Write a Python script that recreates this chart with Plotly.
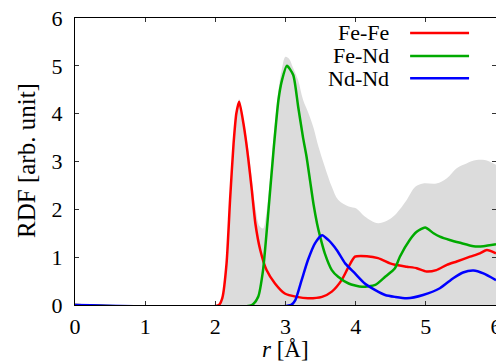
import plotly.graph_objects as go

# ---- data ----
r_fefe = [0, 2.05, 2.10, 2.16, 2.21, 2.26, 2.30, 2.34, 2.40, 2.44, 2.47, 2.52, 2.57, 2.64,
          2.73, 2.85, 2.99, 3.16, 3.32, 3.52, 3.66, 3.80, 3.90, 3.99, 4.16, 4.32, 4.49,
          4.56, 4.73, 4.87, 5.01, 5.15, 5.30, 5.44, 5.63, 5.77, 5.87, 6.0]
g_fefe = [0, 0, 0.15, 0.87, 2.2, 3.38, 4.01, 4.25, 3.80, 3.40, 3.05, 2.40, 1.71, 1.15,
          0.73, 0.45, 0.24, 0.17, 0.14, 0.17, 0.28, 0.52, 0.80, 1.01, 1.02, 0.98, 0.87,
          0.84, 0.80, 0.77, 0.70, 0.73, 0.84, 0.91, 1.01, 1.08, 1.15, 1.08]

r_fend = [0, 2.52, 2.61, 2.68, 2.75, 2.83, 2.90, 2.95, 3.02, 3.11, 3.18, 3.25, 3.30, 3.35,
          3.40, 3.45, 3.49, 3.56, 3.66, 3.75, 3.90, 4.09, 4.28, 4.42, 4.56, 4.63, 4.77,
          4.87, 4.99, 5.11, 5.20, 5.34, 5.49, 5.68, 5.82, 6.0]
g_fend = [0, 0, 0.17, 0.73, 1.85, 3.24, 4.29, 4.70, 5.0, 4.81, 4.15, 3.5, 3.1, 2.6,
          2.1, 1.7, 1.45, 1.08, 0.73, 0.59, 0.45, 0.38, 0.42, 0.59, 0.77, 1.01, 1.36,
          1.53, 1.62, 1.50, 1.43, 1.36, 1.30, 1.23, 1.23, 1.27]

r_ndnd = [0, 3.08, 3.14, 3.23, 3.32, 3.42, 3.52, 3.61, 3.73, 3.85, 3.99, 4.13, 4.28, 4.42,
          4.56, 4.73, 4.96, 5.20, 5.39, 5.53, 5.68, 5.82, 6.0]
g_ndnd = [0, 0, 0.10, 0.52, 0.94, 1.29, 1.46, 1.36, 1.15, 0.87, 0.66, 0.45, 0.31, 0.21,
          0.17, 0.14, 0.21, 0.35, 0.56, 0.68, 0.72, 0.66, 0.52]

r_total = [0, 2.05, 2.10, 2.16, 2.21, 2.26, 2.30, 2.34, 2.40, 2.47, 2.52, 2.57, 2.63, 2.68,
           2.72, 2.77, 2.83, 2.90, 2.95, 3.0, 3.05, 3.11, 3.18, 3.25, 3.33, 3.40, 3.47,
           3.56, 3.66, 3.75, 3.90, 4.01, 4.13, 4.32, 4.47, 4.56, 4.63, 4.73, 4.85, 4.96,
           5.15, 5.30, 5.44, 5.58, 5.72, 5.84, 6.0]
g_total = [0, 0, 0.17, 0.9, 2.25, 3.42, 4.05, 4.3, 3.88, 3.25, 2.65, 2.05, 1.65, 1.6,
           1.85, 2.5, 3.5, 4.5, 4.95, 5.19, 5.15, 4.95, 4.7, 4.29, 4.0, 3.7, 3.31,
           2.89, 2.47, 2.20, 2.06, 2.02, 1.85, 1.71, 1.78, 1.88, 2.0, 2.2, 2.47, 2.54,
           2.54, 2.65, 2.86, 2.96, 3.03, 3.03, 2.93]

series_names = ["Fe-Fe", "Fe-Nd", "Nd-Nd"]
series_colors = ["#ff0000", "#00aa00", "#0000ff"]
x_ticks = [0, 1, 2, 3, 4, 5, 6]
y_ticks = [0, 1, 2, 3, 4, 5, 6]

FONT = "Liberation Serif, Times New Roman, serif"

fig = go.Figure()
fig.add_trace(go.Scatter(x=r_total, y=g_total, mode="lines", fill="tozeroy",
                         fillcolor="#dcdcdc", line=dict(width=0, color="#dcdcdc"),
                         line_shape="spline", showlegend=False, hoverinfo="skip"))
for rx, gy, name, col in zip([r_fefe, r_fend, r_ndnd], [g_fefe, g_fend, g_ndnd],
                             series_names, series_colors):
    fig.add_trace(go.Scatter(x=rx, y=gy, mode="lines", name=name,
                             line=dict(color=col, width=2.5, shape="spline", smoothing=0.6),
                             showlegend=False))

# manual legend (text right-aligned, line sample to the right)
leg_y = [0.948, 0.868, 0.790]
for name, col, yy in zip(series_names, series_colors, leg_y):
    fig.add_annotation(xref="paper", yref="paper", x=0.750, y=yy, text=name,
                       showarrow=False, xanchor="right", yanchor="middle",
                       font=dict(family=FONT, size=22, color="black"))
    fig.add_shape(type="line", xref="paper", yref="paper", x0=0.796, x1=0.936,
                  y0=yy, y1=yy, line=dict(color=col, width=2.5))

# axis titles
fig.add_annotation(xref="paper", yref="paper", x=0.5, y=-0.155, text="<i>r</i> [Å]",
                   showarrow=False, xanchor="center", yanchor="middle",
                   font=dict(family=FONT, size=23, color="black"))
fig.add_annotation(xref="paper", yref="paper", x=-0.114, y=0.502, text="RDF [arb. unit]",
                   showarrow=False, xanchor="center", yanchor="middle", textangle=-90,
                   font=dict(family=FONT, size=25, color="black"))

axis_common = dict(showline=True, linecolor="black", linewidth=1, mirror="ticks",
                   ticks="inside", ticklen=4, tickcolor="#333333", showgrid=False,
                   zeroline=False, automargin=False, ticklabeloverflow="allow",
                   tickfont=dict(family=FONT, size=22, color="black"))
fig.update_xaxes(range=[0, 6], tickvals=x_ticks, ticklabelstandoff=2, **axis_common)
fig.update_yaxes(range=[0, 6], tickvals=y_ticks, ticklabelstandoff=7, **axis_common)

# page body has an 8px margin, so the figure is sized/offset to land the plot area
# where the reference has it
fig.update_layout(width=496, height=356, margin=dict(l=67, r=8, t=10, b=59),
                  plot_bgcolor="white", paper_bgcolor="white", showlegend=False)

fig.write_html("out.html")
